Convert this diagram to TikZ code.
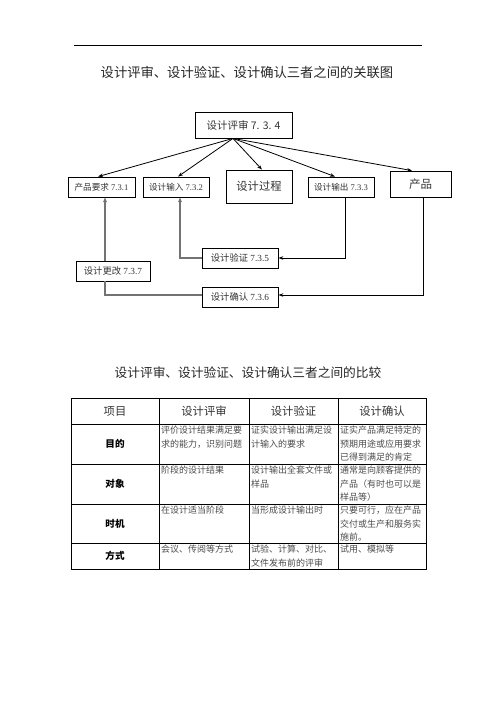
\documentclass[tikz,border=0pt]{standalone}
\usepackage{fontspec}
\setmainfont{Liberation Serif}
\newfontfamily\cjk{Noto Sans CJK SC}
\usetikzlibrary{arrows.meta}
\begin{document}
\begin{tikzpicture}[x=1pt,y=-1pt,
  box/.style={draw=black,line width=0.8pt,inner sep=0pt,align=center,text=black!80},
  smallbox/.style={box,minimum height=20pt,font=\fontsize{8.6}{10}\selectfont},
  arr/.style={draw=black,line width=0.8pt,-{Stealth[length=5pt,width=3.5pt]}},
  feed/.style={draw=black!55,line width=1.4pt},
  feedarr/.style={feed,-{Stealth[length=5pt,width=4pt]}},
  cell/.style={anchor=north west,inner sep=0pt,align=left,text=black!70,font=\cjk\fontsize{9}{13.3}\selectfont},
  hdr/.style={inner sep=0pt,text=black!80,font=\cjk\fontsize{11.3}{13}\selectfont},
  lbl/.style={inner sep=0pt,text=black,font=\cjk\bfseries\fontsize{9.6}{12}\selectfont},
  grid/.style={draw=black,line width=0.8pt}]
\useasboundingbox (0,0) rectangle (496,702);
% top rule and titles
\coordinate (r1) at (74,45);
\coordinate (r2) at (422,45);
\draw[line width=0.8pt] (r1) -- (r2);
\node[inner sep=0pt,text=black!85,font=\cjk\fontsize{13.3}{15}\selectfont] (t1) at (247,72) {设计评审、设计验证、设计确认三者之间的关联图};
% diagram nodes
\node[box,minimum width=97pt,minimum height=26pt,font=\cjk\fontsize{10.5}{12}\selectfont] (rev) at (243.5,125) {设计评审 7. 3. 4};
\node[smallbox,minimum width=67pt] (req) at (101.5,187) {{\cjk 产品要求} 7.3.1};
\node[smallbox,minimum width=66pt] (inp) at (176,187) {{\cjk 设计输入} 7.3.2};
\node[box,minimum width=66pt,minimum height=33pt,font=\cjk\fontsize{11.3}{13}\selectfont] (proc) at (259,186.5) {设计过程};
\node[smallbox,minimum width=66pt] (out) at (341,187) {{\cjk 设计输出} 7.3.3};
\node[box,minimum width=61pt,minimum height=26pt,font=\cjk\fontsize{11.5}{13}\selectfont] (prod) at (420.5,184) {产品};
\node[smallbox,minimum width=76pt,font=\fontsize{9.3}{11}\selectfont] (ver) at (240,258) {{\cjk 设计验证} 7.3.5};
\node[smallbox,minimum width=74pt,font=\fontsize{9.3}{11}\selectfont] (chg) at (113,271) {{\cjk 设计更改} 7.3.7};
\node[smallbox,minimum width=76pt,font=\fontsize{9.3}{11}\selectfont] (val) at (240,297) {{\cjk 设计确认} 7.3.6};
% review arrows
\coordinate (o) at ([xshift=-10.5pt]rev.south);
\draw[arr] (o) -- ([xshift=-3.5pt]req.north);
\draw[arr] (o) -- ([xshift=2pt]inp.north);
\draw[arr] (o) -- ([xshift=3pt]proc.north);
\draw[arr] (o) -- ([xshift=-6pt]out.north);
\draw[arr] (o) -- ([xshift=-8.5pt]prod.north);
% verification / validation
\draw[arr] ([xshift=4pt]out.south) |- (ver.east);
\draw[arr] ([xshift=2.5pt]prod.south) |- ([yshift=2pt]val.east);
\draw[feedarr] (ver.west) -| ([xshift=4pt]inp.south);
\draw[feed] ([yshift=2pt]val.west) -| ([xshift=-8pt]chg.south);
\draw[feedarr] ([xshift=-8pt]chg.north) -- ([xshift=-8pt]chg.north |- req.south);
% second title
\node[inner sep=0pt,text=black!85,font=\cjk\fontsize{12.7}{15}\selectfont] (t2) at (248,373) {设计评审、设计验证、设计确认三者之间的比较};
% table grid
\draw[grid] (71,398) rectangle (426,569);
\foreach \y in {424,464,504,543} \draw[grid] (71,\y) -- (426,\y);
\foreach \x in {159,249,338} \draw[grid] (\x,398) -- (\x,569);
% header
\node[hdr] (h1) at (115,411) {项目};
\node[hdr] (h2) at (204,411) {设计评审};
\node[hdr] (h3) at (293.5,411) {设计验证};
\node[hdr] (h4) at (382,411) {设计确认};
% row labels
\node[lbl] (l1) at (115,444) {目的};
\node[lbl] (l2) at (115,484) {对象};
\node[lbl] (l3) at (115,523.5) {时机};
\node[lbl] (l4) at (115,556) {方式};
% cells
\node[cell] (c11) at (161,426) {评价设计结果满足要\\求的能力，识别问题};
\node[cell] (c12) at (251,426) {证实设计输出满足设\\计输入的要求};
\node[cell] (c13) at (340,426) {证实产品满足特定的\\预期用途或应用要求\\已得到满足的肯定};
\node[cell] (c21) at (161,466) {阶段的设计结果};
\node[cell] (c22) at (251,466) {设计输出全套文件或\\样品};
\node[cell] (c23) at (340,466) {通常是向顾客提供的\\产品（有时也可以是\\样品等）};
\node[cell] (c31) at (161,506) {在设计适当阶段};
\node[cell] (c32) at (251,506) {当形成设计输出时};
\node[cell] (c33) at (340,506) {只要可行，应在产品\\交付或生产和服务实\\施前。};
\node[cell] (c41) at (161,545) {会议、传阅等方式};
\node[cell] (c42) at (251,545) {试验、计算、对比、\\文件发布前的评审};
\node[cell] (c43) at (340,545) {试用、模拟等};
\end{tikzpicture}
\end{document}
